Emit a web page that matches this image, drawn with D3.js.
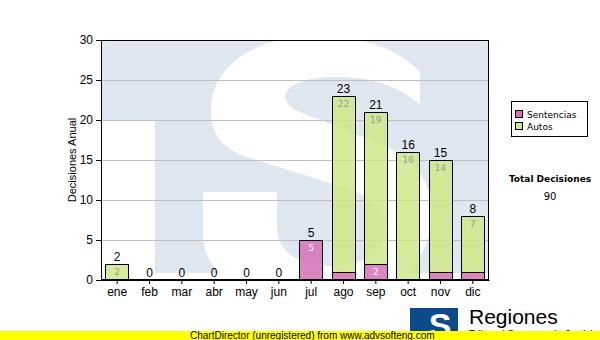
<!DOCTYPE html>
<html>
<head>
<meta charset="utf-8">
<script src="https://cdn.jsdelivr.net/npm/d3@7"></script>
<style>
  body { margin: 0; background: #fff; }
  svg { display: block; }
</style>
</head>
<body>
<div id="chart"></div>
<script>
// data
const meses = ["ene", "feb", "mar", "abr", "may", "jun", "jul", "ago", "sep", "oct", "nov", "dic"];
const sentencias = [0, 0, 0, 0, 0, 0, 5, 1, 2, 0, 1, 1];
const autos = [2, 0, 0, 0, 0, 0, 0, 22, 19, 16, 14, 7];
const yTicks = [0, 5, 10, 15, 20, 25, 30];
const series = ["Sentencias", "Autos"];
const totalDecisiones = 90;

const width = 600, height = 340;
const margin = { top: 40, right: 111, bottom: 60, left: 101 };
const innerWidth = width - margin.left - margin.right;
const innerHeight = height - margin.top - margin.bottom;

const colors = { Sentencias: "#d770b9", Autos: "#cfe88a" };

const svg = d3.select("#chart")
  .append("svg")
  .attr("width", width)
  .attr("height", height)
  .attr("viewBox", `0 0 ${width} ${height}`);

svg.append("defs").append("clipPath")
  .attr("id", "plotclip")
  .append("rect")
  .attr("width", innerWidth)
  .attr("height", innerHeight);

const chart = svg.append("g")
  .attr("transform", `translate(${margin.left},${margin.top})`);

// scales
const xScale = d3.scaleBand()
  .domain(meses)
  .range([0, innerWidth])
  .paddingInner(0.26)
  .paddingOuter(0.13);

const yScale = d3.scaleLinear()
  .domain([0, 30])
  .range([innerHeight, 0]);

// watermark logo behind the plot
const wm = chart.append("g").attr("clip-path", "url(#plotclip)");
const wmBlue = "#dfe8f1";
wm.append("rect").attr("width", innerWidth).attr("height", 80).attr("fill", wmBlue);
wm.append("rect").attr("x", 54).attr("width", innerWidth - 54).attr("height", 233).attr("fill", wmBlue);
wm.append("path")
  .attr("transform", `translate(${-margin.left},${-margin.top})`)
  .attr("fill", "#fff")
  .attr("d", "M420,72 C398,48 360,36 318,36 C255,36 211,66 211,110 C211,135 222,145 240,155 L333,184 " +
    "C370,195 385,205 385,228 C385,255 360,266 330,266 C300,266 277,252 277,228 L277,192 L203,192 L203,235 " +
    "C203,280 255,300 318,300 C390,300 432,262 432,215 C432,175 410,155 370,140 L300,112 " +
    "C290,108 285,102 285,96 C285,88 300,78 330,77 C370,76 400,86 420,105 Z");

// gridlines
chart.append("g")
  .selectAll("line")
  .data(yTicks.filter(d => d > 0 && d < 30))
  .join("line")
  .attr("x1", 0)
  .attr("x2", innerWidth)
  .attr("y1", d => yScale(d) + 0.5)
  .attr("y2", d => yScale(d) + 0.5)
  .attr("stroke", "#c0c0c0")
  .attr("stroke-width", 1);

// stacked bars
const table = meses.map((m, i) => ({ mes: m, Sentencias: sentencias[i], Autos: autos[i] }));
const stacked = d3.stack().keys(series)(table);

const layers = chart.append("g")
  .selectAll("g")
  .data(stacked)
  .join("g")
  .attr("fill", d => colors[d.key])
  .attr("fill-opacity", 0.85);

layers.selectAll("rect")
  .data(d => d.filter(p => p[1] - p[0] > 0))
  .join("rect")
  .attr("x", d => Math.round(xScale(d.data.mes)) + 0.5)
  .attr("y", d => Math.round(yScale(d[1])) + 0.5)
  .attr("width", Math.round(xScale.bandwidth()) - 1)
  .attr("height", d => Math.round(yScale(d[0])) - Math.round(yScale(d[1])))
  .attr("stroke", "#000")
  .attr("stroke-width", 1);

// values inside segments
stacked.forEach(layer => {
  chart.append("g")
    .selectAll("text")
    .data(layer.filter(p => p[1] - p[0] >= 2))
    .join("text")
    .attr("x", d => xScale(d.data.mes) + xScale.bandwidth() / 2)
    .attr("y", d => yScale(d[1]) + 11)
    .attr("text-anchor", "middle")
    .attr("font-family", "DejaVu Sans, Verdana, sans-serif")
    .attr("font-size", "9px")
    .attr("fill", layer.key === "Autos" ? "#9a9a9a" : "#fff")
    .text(d => d[1] - d[0]);
});

// totals on top
chart.append("g")
  .selectAll("text")
  .data(table)
  .join("text")
  .attr("x", d => xScale(d.mes) + xScale.bandwidth() / 2)
  .attr("y", d => yScale(d.Sentencias + d.Autos) - 3)
  .attr("text-anchor", "middle")
  .attr("font-family", "Liberation Sans, Arial, sans-serif")
  .attr("font-size", "12px")
  .attr("fill", "#000")
  .text(d => d.Sentencias + d.Autos);

// plot frame
chart.append("rect")
  .attr("x", 0.5)
  .attr("y", 0.5)
  .attr("width", innerWidth - 1)
  .attr("height", innerHeight - 1)
  .attr("fill", "none")
  .attr("stroke", "#000");

// axes
const xAxis = chart.append("g")
  .attr("transform", `translate(0,${innerHeight})`)
  .call(d3.axisBottom(xScale).tickSize(4).tickSizeOuter(0).tickPadding(2));

const yAxis = chart.append("g")
  .call(d3.axisLeft(yScale).tickValues(yTicks).tickSize(5).tickSizeOuter(0).tickPadding(3));

[xAxis, yAxis].forEach(ax => {
  ax.selectAll("text")
    .attr("font-family", "Liberation Sans, Arial, sans-serif")
    .attr("font-size", "12px")
    .attr("fill", "#000");
  ax.selectAll("line").attr("stroke", "#000");
  ax.select(".domain").attr("stroke", "#000");
});
xAxis.selectAll("text").attr("dy", "0.85em");

// y-axis label
chart.append("text")
  .attr("x", -innerHeight / 2)
  .attr("y", -25)
  .attr("text-anchor", "middle")
  .attr("font-family", "Liberation Sans, Arial, sans-serif")
  .attr("font-size", "11px")
  .attr("transform", "rotate(-90)")
  .text("Decisiones Anual");

// legend
const legend = svg.append("g")
  .attr("transform", "translate(511,101)");

legend.append("rect")
  .attr("x", 0.5)
  .attr("y", 0.5)
  .attr("width", 76)
  .attr("height", 35)
  .attr("fill", "#fff")
  .attr("stroke", "#000");

series.forEach((s, i) => {
  const row = legend.append("g")
    .attr("transform", `translate(4, ${9 + i * 12})`);

  row.append("rect")
    .attr("x", 0.5)
    .attr("y", 0.5)
    .attr("width", 7)
    .attr("height", 7)
    .attr("fill", colors[s])
    .attr("stroke", "#000");

  row.append("text")
    .attr("x", 12)
    .attr("y", 7.5)
    .attr("font-family", "DejaVu Sans, Verdana, sans-serif")
    .attr("font-size", "9px")
    .text(s);
});

svg.append("text")
  .attr("x", 550)
  .attr("y", 182)
  .attr("text-anchor", "middle")
  .attr("font-family", "DejaVu Sans, Verdana, sans-serif")
  .attr("font-size", "9px")
  .attr("font-weight", "bold")
  .text("Total Decisiones");

svg.append("text")
  .attr("x", 550)
  .attr("y", 200)
  .attr("text-anchor", "middle")
  .attr("font-family", "DejaVu Sans, Verdana, sans-serif")
  .attr("font-size", "10px")
  .text(totalDecisiones);

// logo at the bottom
const logo = svg.append("g");
logo.append("rect")
  .attr("x", 410).attr("y", 308).attr("width", 48).attr("height", 26)
  .attr("fill", "#0d4a8c");
logo.append("text")
  .attr("x", 440).attr("y", 337)
  .attr("text-anchor", "middle")
  .attr("font-family", "Liberation Sans, Arial, sans-serif")
  .attr("font-weight", "bold")
  .attr("font-size", "34px")
  .attr("fill", "#fff")
  .text("S");
logo.append("text")
  .attr("x", 469).attr("y", 324)
  .attr("font-family", "Liberation Sans, Arial, sans-serif")
  .attr("font-size", "21px")
  .text("Regiones");
logo.append("text")
  .attr("x", 469).attr("y", 338)
  .attr("font-family", "Liberation Sans, Arial, sans-serif")
  .attr("font-size", "10px")
  .text("Tribunal Supremo de Justicia");

// unregistered banner
svg.append("rect")
  .attr("x", 0).attr("y", 331).attr("width", width).attr("height", 9)
  .attr("fill", "#ffff00");
svg.append("text")
  .attr("x", 190).attr("y", 339)
  .attr("font-family", "Liberation Sans, Arial, sans-serif")
  .attr("font-size", "10px")
  .text("ChartDirector (unregistered) from www.advsofteng.com");
</script>
</body>
</html>
